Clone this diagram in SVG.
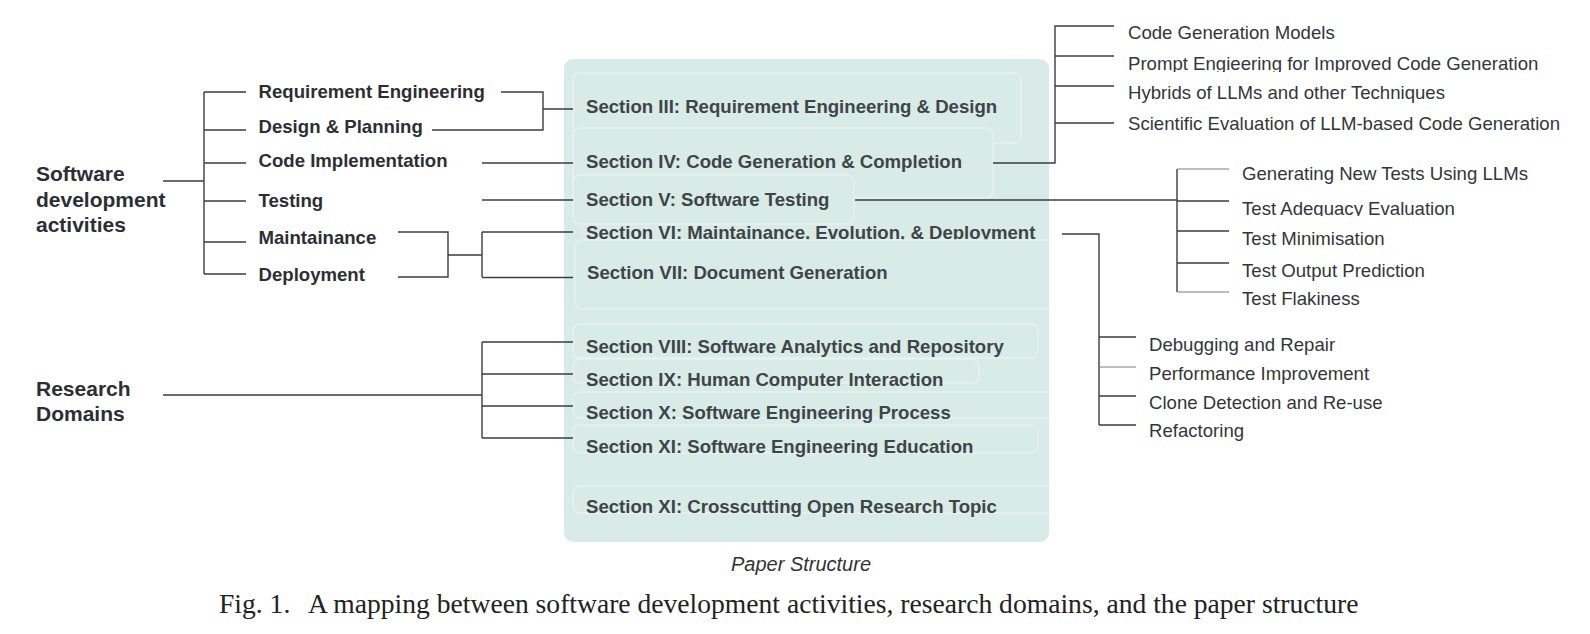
<svg xmlns="http://www.w3.org/2000/svg" width="1590" height="634" viewBox="0 0 1590 634">
<style>
.lbl{font-family:"Liberation Sans",Arial,sans-serif;font-weight:bold;font-size:18.6px;fill:#2b2f34}
.big{font-size:21px}
.sec{font-family:"Liberation Sans",Arial,sans-serif;font-weight:bold;font-size:18.6px;fill:#3e4548}
.item{font-family:"Liberation Sans",Arial,sans-serif;font-size:18.6px;fill:#333639}
.ln{stroke:#3a3d40;stroke-width:1.4;fill:none}
.lt{stroke:#7a7d80;stroke-width:1.1;fill:none}
.bx{fill:#d9ebe6;stroke:#e7f2ef;stroke-width:1.5}
</style>
<defs>
<clipPath id="panelClip"><rect x="564" y="59" width="485" height="483" rx="9"/></clipPath>
<clipPath id="clipPrompt"><rect x="1100" y="40" width="480" height="32"/></clipPath>
<clipPath id="clipAdeq"><rect x="1230" y="190" width="340" height="26"/></clipPath>
</defs>
<rect width="1590" height="634" fill="#ffffff"/>

<g id="panel">
<rect x="564" y="59" width="485" height="483" rx="9" fill="#d9ebe6"/>
<g clip-path="url(#panelClip)">
<g id="sec3"><rect class="bx" x="573" y="73" width="448" height="70" rx="7"/><text class="sec" x="586" y="113">Section III: Requirement Engineering &amp; Design</text></g>
<g id="sec4"><rect class="bx" x="573" y="128" width="420" height="70" rx="7"/><text class="sec" x="586" y="168">Section IV: Code Generation &amp; Completion</text></g>
<g id="sec5"><rect class="bx" x="573" y="175" width="281" height="49" rx="7"/><text class="sec" x="586" y="206">Section V: Software Testing</text></g>
<g id="sec6"><text class="sec" x="586" y="239">Section VI: Maintainance, Evolution, &amp; Deployment</text></g>
<g id="sec7"><rect class="bx" x="575" y="240" width="495" height="69" rx="7"/><text class="sec" x="587" y="279">Section VII: Document Generation</text></g>
<g id="sec8"><rect class="bx" x="573" y="324" width="465" height="34" rx="7"/><text class="sec" x="586" y="353">Section VIII: Software Analytics and Repository</text></g>
<g id="sec9"><rect class="bx" x="573" y="359" width="406" height="24" rx="7"/><text class="sec" x="586" y="386">Section IX: Human Computer Interaction</text></g>
<g id="sec10"><rect class="bx" x="573" y="392" width="495" height="26" rx="7"/><text class="sec" x="586" y="419">Section X: Software Engineering Process</text></g>
<g id="sec11"><rect class="bx" x="573" y="425" width="465" height="28" rx="7"/><text class="sec" x="586" y="453">Section XI: Software Engineering Education</text></g>
<g id="sec12"><rect class="bx" x="573" y="486" width="495" height="27" rx="7"/><text class="sec" x="586" y="513">Section XI: Crosscutting Open Research Topic</text></g>
</g>
</g>

<g id="connectors">
<path class="ln" d="M163 181H204M204 92V274M204 92H246M204 130H246M204 163H246M204 201H246M204 242H246M204 274H246"/>
<path class="ln" d="M501 92H543V130H432M543 109H573"/>
<path class="ln" d="M482 163H573" stroke="#6a6d70"/>
<path class="ln" d="M482 200H573"/>
<path class="ln" d="M398 232H448V277H398M448 255H482M482 232V277M482 232H573M482 277.5H573"/>
<path class="ln" d="M163 395H482M482 342V438M482 342H573M482 374H573M482 406H573M482 438H573"/>
<path class="ln" d="M993 163H1055V26H1114M1055 56H1114M1055 86H1114M1055 123H1114" stroke-width="1.6"/>
<path class="ln" d="M855 200H1177M1177 169V292M1177 201H1229M1177 231H1229M1177 263H1229"/>
<path class="lt" d="M1177 169H1229M1177 292H1229"/>
<path class="ln" d="M1062 234H1099V425M1099 337H1136M1099 396H1136M1099 425H1136" stroke-width="1.6"/>
<path class="lt" d="M1099 367H1136"/>
</g>

<g id="sda"><text class="lbl big" x="36" y="181">Software</text><text class="lbl big" x="36" y="207">development</text><text class="lbl big" x="36" y="232">activities</text></g>
<g id="rd"><text class="lbl big" x="36" y="396">Research</text><text class="lbl big" x="36" y="421">Domains</text></g>

<g id="req"><text class="lbl" x="258.5" y="98">Requirement Engineering</text></g>
<g id="design"><text class="lbl" x="258.5" y="133">Design &amp; Planning</text></g>
<g id="code"><text class="lbl" x="258.5" y="167">Code Implementation</text></g>
<g id="testing"><text class="lbl" x="258.5" y="207">Testing</text></g>
<g id="maint"><text class="lbl" x="258.5" y="244">Maintainance</text></g>
<g id="deploy"><text class="lbl" x="258.5" y="281">Deployment</text></g>

<g id="cg1"><text class="item" x="1128" y="39">Code Generation Models</text></g>
<g id="cg2"><text class="item" x="1128" y="70" clip-path="url(#clipPrompt)">Prompt Engieering for Improved Code Generation</text></g>
<g id="cg3"><text class="item" x="1128" y="98.5">Hybrids of LLMs and other Techniques</text></g>
<g id="cg4"><text class="item" x="1128" y="130">Scientific Evaluation of LLM-based Code Generation</text></g>

<g id="t1"><text class="item" x="1242" y="180">Generating New Tests Using LLMs</text></g>
<g id="t2"><text class="item" x="1242" y="215" clip-path="url(#clipAdeq)">Test Adequacy Evaluation</text></g>
<g id="t3"><text class="item" x="1242" y="245">Test Minimisation</text></g>
<g id="t4"><text class="item" x="1242" y="276.5">Test Output Prediction</text></g>
<g id="t5"><text class="item" x="1242" y="305">Test Flakiness</text></g>

<g id="m1"><text class="item" x="1149" y="351">Debugging and Repair</text></g>
<g id="m2"><text class="item" x="1149" y="380">Performance Improvement</text></g>
<g id="m3"><text class="item" x="1149" y="409">Clone Detection and Re-use</text></g>
<g id="m4"><text class="item" x="1149" y="437">Refactoring</text></g>

<g id="caption">
<text x="801" y="571" text-anchor="middle" style="font-family:'Liberation Sans',Arial,sans-serif;font-style:italic;font-size:20px;fill:#333">Paper Structure</text>
<text y="613" style="font-family:'Liberation Serif','Times New Roman',serif;font-size:27.6px;fill:#222"><tspan x="219">Fig. 1.</tspan><tspan x="308">A mapping between software development activities, research domains, and the paper structure</tspan></text>
</g>
</svg>
